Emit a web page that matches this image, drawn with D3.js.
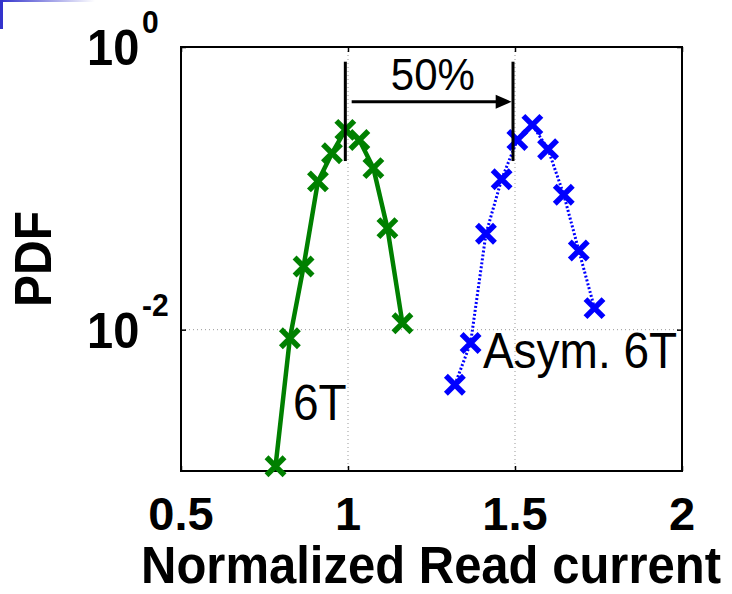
<!DOCTYPE html>
<html>
<head>
	<title></title>
	<meta charset="utf-8">
	<script src="https://d3js.org/d3.v7.min.js"></script>
	<style>
		body { margin: 0; background: #fff; }
		text { font-family: "Liberation Sans", Arial, sans-serif; fill: #000; }
	</style>
</head>
<body>
	<svg id="chart" width="732" height="594"></svg>

	<script type="text/javascript">
		// values
		var xTicks = [0.5, 1, 1.5, 2];
		var xTickLabels = ["0.5", "1", "1.5", "2"];
		var yTicks = [1, 0.01];
		var yTickExp = ["0", "-2"];

		var sixT_x = [0.783, 0.826, 0.867, 0.910, 0.952, 0.992, 1.034, 1.076, 1.118, 1.163];
		var sixT_pdf = [0.00108, 0.0087, 0.028, 0.112, 0.177, 0.259, 0.220, 0.139, 0.0523, 0.0111];

		var asym_x = [1.320, 1.367, 1.413, 1.460, 1.507, 1.552, 1.599, 1.646, 1.691, 1.738];
		var asym_pdf = [0.00408, 0.00805, 0.0477, 0.116, 0.220, 0.281, 0.189, 0.090, 0.0363, 0.0142];

		var markerX = [0.992, 1.494];
		var markerY = [0.787, 0.156];
		var arrowX = [1.011, 1.490];
		var arrowY = 0.41;

		var labels = [
			{text: "6T", x: 0.835, y: 0.00229, size: 46},
			{text: "Asym. 6T", x: 1.404, y: 0.00532, size: 46},
			{text: "50%", x: 1.254, y: 0.496, size: 42, anchor: "middle"}
		];

		function drawChart() {
			var svg = d3.select("#chart");
			var left = 181, right = 682, plotTop = 47, bottom = 471;
			var stretch = 1.07; // the picture's text is a little taller than wide

			var x = d3.scaleLinear().domain([0.5, 2]).range([left, right]);
			var y = d3.scaleLog().domain([0.001, 1]).range([bottom, plotTop]);

			function at(px, py) {
				return "translate(" + px + "," + py + ") scale(1," + stretch + ")";
			}

			// slide leftover in the corner
			var grad = svg.append("defs").append("linearGradient").attr("id", "fade");
			grad.append("stop").attr("offset", "0%").attr("stop-color", "#3333cc");
			grad.append("stop").attr("offset", "100%").attr("stop-color", "#fff");
			svg.append("rect").attr("x", 0).attr("y", 0).attr("width", 95).attr("height", 2).attr("fill", "url(#fade)");
			svg.append("rect").attr("x", 0).attr("y", 0).attr("width", 3).attr("height", 29).attr("fill", "#3333cc");

			// grid
			var grid = svg.append("g")
				.attr("stroke", "#999")
				.attr("stroke-width", 1)
				.attr("stroke-dasharray", "1,3");
			grid.selectAll("line.gx")
				.data(xTicks.filter(function(d) { return d > 0.5 && d < 2; }))
				.enter().append("line")
				.attr("class", "gx")
				.attr("x1", function(d) { return x(d); })
				.attr("x2", function(d) { return x(d); })
				.attr("y1", plotTop).attr("y2", bottom);
			grid.selectAll("line.gy")
				.data(yTicks.filter(function(d) { return d < 1; }))
				.enter().append("line")
				.attr("class", "gy")
				.attr("y1", function(d) { return y(d); })
				.attr("y2", function(d) { return y(d); })
				.attr("x1", left).attr("x2", right);

			// inward ticks on all four sides
			function ticks(axis, scale, vals, transform) {
				svg.append("g")
					.attr("transform", transform)
					.call(axis(scale).tickValues(vals).tickSize(-5).tickFormat(""))
					.call(function(g) {
						g.select(".domain").remove();
						g.selectAll("line").attr("stroke", "#000").attr("stroke-width", 1.5);
					});
			}
			ticks(d3.axisBottom, x, xTicks, "translate(0," + bottom + ")");
			ticks(d3.axisTop, x, xTicks, "translate(0," + plotTop + ")");
			ticks(d3.axisLeft, y, yTicks, "translate(" + left + ",0)");
			ticks(d3.axisRight, y, yTicks, "translate(" + right + ",0)");

			// frame
			svg.append("rect")
				.attr("x", left).attr("y", plotTop)
				.attr("width", right - left).attr("height", bottom - plotTop)
				.attr("fill", "none").attr("stroke", "#000").attr("stroke-width", 2);

			// x tick labels
			svg.selectAll("text.xt")
				.data(xTicks)
				.enter().append("text")
				.attr("class", "xt")
				.attr("x", function(d) { return x(d); })
				.attr("y", 530)
				.attr("text-anchor", "middle")
				.style("font-size", "47px")
				.style("font-weight", "bold")
				.text(function(d, i) { return xTickLabels[i]; });

			// y tick labels 10^n
			var yt = svg.selectAll("g.yt")
				.data(yTicks)
				.enter().append("g")
				.attr("class", "yt")
				.attr("transform", function(d) { return at(87, y(d) + 18); })
				.style("font-weight", "bold");
			yt.append("text").style("font-size", "47px").text("10");
			yt.append("text")
				.attr("x", 55)
				.attr("y", -30)
				.style("font-size", "30px")
				.text(function(d, i) { return yTickExp[i]; });

			// axis titles
			svg.append("text")
				.attr("transform", at((137 + 725) / 2, 583))
				.attr("text-anchor", "middle")
				.style("font-size", "49px")
				.style("font-weight", "bold")
				.text("Normalized Read current");
			svg.append("text")
				.attr("transform", "translate(51,259) rotate(-90) scale(1," + stretch + ")")
				.attr("text-anchor", "middle")
				.style("font-size", "48px")
				.style("font-weight", "bold")
				.text("PDF");

			// series
			function series(xs, ys, color, dash, width) {
				var pts = xs.map(function(d, i) { return [d, ys[i]]; });
				var line = d3.line()
					.x(function(d) { return x(d[0]); })
					.y(function(d) { return y(d[1]); });
				svg.append("path")
					.datum(pts)
					.attr("d", line)
					.attr("fill", "none")
					.attr("stroke", color)
					.attr("stroke-width", width)
					.attr("stroke-dasharray", dash);
				var s = 9;
				svg.selectAll(null)
					.data(pts)
					.enter().append("path")
					.attr("d", function(d) {
						var cx = x(d[0]), cy = y(d[1]);
						return "M" + (cx - s) + "," + (cy - s) + "L" + (cx + s) + "," + (cy + s) +
							"M" + (cx - s) + "," + (cy + s) + "L" + (cx + s) + "," + (cy - s);
					})
					.attr("stroke", color)
					.attr("stroke-width", 5.5)
					.attr("fill", "none");
			}
			series(sixT_x, sixT_pdf, "#008000", null, 4.5);
			series(asym_x, asym_pdf, "#0000ff", "2,2", 3);

			// 50% annotation
			svg.selectAll("line.mk")
				.data(markerX)
				.enter().append("line")
				.attr("class", "mk")
				.attr("x1", function(d) { return x(d); })
				.attr("x2", function(d) { return x(d); })
				.attr("y1", y(markerY[0]))
				.attr("y2", y(markerY[1]))
				.attr("stroke", "#000")
				.attr("stroke-width", 3);
			var tipX = x(arrowX[1]), tipY = y(arrowY);
			svg.append("line")
				.attr("x1", x(arrowX[0]))
				.attr("x2", tipX - 14)
				.attr("y1", tipY)
				.attr("y2", tipY)
				.attr("stroke", "#000")
				.attr("stroke-width", 3);
			svg.append("path")
				.attr("d", "M" + tipX + "," + tipY + "L" + (tipX - 16) + "," + (tipY - 7) + "L" + (tipX - 16) + "," + (tipY + 7) + "Z")
				.attr("fill", "#000");

			svg.selectAll("text.lbl")
				.data(labels)
				.enter().append("text")
				.attr("class", "lbl")
				.attr("transform", function(d) { return at(x(d.x), y(d.y)); })
				.attr("text-anchor", function(d) { return d.anchor || "start"; })
				.style("font-size", function(d) { return d.size + "px"; })
				.text(function(d) { return d.text; });
		}
		drawChart();
	</script>
</body>
</html>
